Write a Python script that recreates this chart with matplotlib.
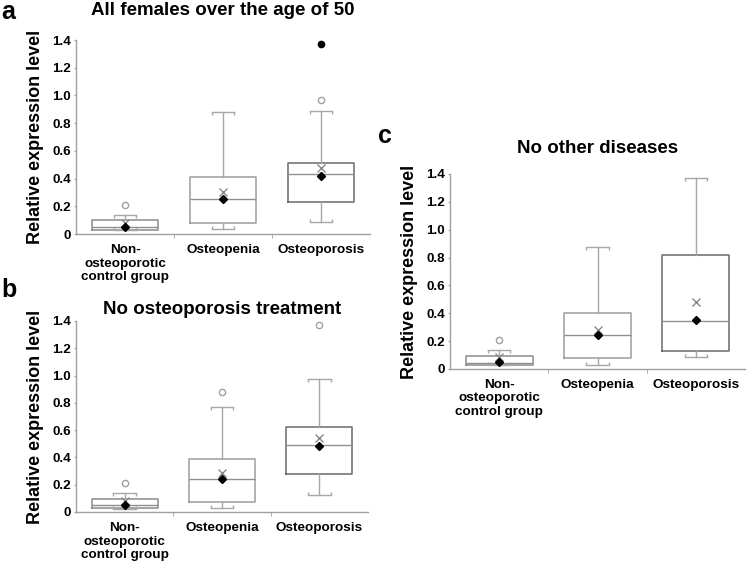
import matplotlib.pyplot as plt

plt.rcParams['font.family'] = ['Liberation Sans', 'DejaVu Sans']

groups = ['Non-\nosteoporotic\ncontrol group', 'Osteopenia', 'Osteoporosis']

# panel a: all females over 50
a_q1 = [0.03, 0.08, 0.23]
a_med = [0.05, 0.25, 0.43]
a_q3 = [0.10, 0.41, 0.51]
a_lo = [0.03, 0.035, 0.09]
a_hi = [0.135, 0.88, 0.885]
a_mean = [0.08, 0.30, 0.48]
a_diamond = [0.05, 0.25, 0.42]
a_open = [[0.21], [], [0.97]]
a_filled = [[], [], [1.37]]

# panel b: no osteoporosis treatment
b_q1 = [0.027, 0.075, 0.28]
b_med = [0.05, 0.24, 0.49]
b_q3 = [0.095, 0.39, 0.625]
b_lo = [0.025, 0.03, 0.125]
b_hi = [0.136, 0.77, 0.975]
b_mean = [0.08, 0.285, 0.545]
b_diamond = [0.05, 0.24, 0.485]
b_open = [[0.21], [0.88], [1.37]]
b_filled = [[], [], []]

# panel c: no other diseases
c_q1 = [0.025, 0.078, 0.127]
c_med = [0.046, 0.243, 0.348]
c_q3 = [0.095, 0.405, 0.818]
c_lo = [0.025, 0.028, 0.085]
c_hi = [0.135, 0.878, 1.37]
c_mean = [0.085, 0.28, 0.478]
c_diamond = [0.05, 0.243, 0.35]
c_open = [[0.21], [], []]
c_filled = [[], [], []]

box_colors = ['#8c8c8c', '#9c9c9c', '#6a6a6a']
whisk_col = '#a8a8a8'
capw = 0.23


def panel(ax, q1, med, q3, lo, hi, mean, diamond, opn, filled, title, tpad):
    pos = [1, 2, 3]
    stats = []
    for i in range(3):
        stats.append(dict(med=med[i], q1=q1[i], q3=q3[i], whislo=lo[i], whishi=hi[i],
                          mean=mean[i], fliers=[]))
    parts = ax.bxp(stats, positions=pos, widths=0.68, capwidths=capw, showmeans=True,
                   showfliers=False,
                   boxprops=dict(lw=1.1),
                   whiskerprops=dict(color=whisk_col, lw=1.0),
                   capprops=dict(color=whisk_col, lw=1.0),
                   medianprops=dict(color='#909090', lw=1.0),
                   meanprops=dict(marker='x', markeredgecolor='#8a8a8a', markersize=5.5, mew=1.0))
    for b, c in zip(parts['boxes'], box_colors):
        b.set_color(c)
    # little turned-in ends on the caps, excel style
    for i in range(3):
        xs = [pos[i] - capw / 2, pos[i] + capw / 2]
        ax.plot(xs, [lo[i], lo[i]], ls='none', marker=2, color=whisk_col, markersize=2.5, mew=1.0)
        ax.plot(xs, [hi[i], hi[i]], ls='none', marker=3, color=whisk_col, markersize=2.5, mew=1.0)
    ax.plot(pos, diamond, 'D', color='black', markersize=4.5, ls='none', zorder=5)
    for i in range(3):
        if opn[i]:
            ax.plot([pos[i]] * len(opn[i]), opn[i], 'o', mfc='white', mec='#a0a0a0',
                    markersize=4.5, mew=1.0, clip_on=False)
        if filled[i]:
            ax.plot([pos[i]] * len(filled[i]), filled[i], 'o', color='black',
                    markersize=4.5, clip_on=False)
    ax.set_xlim(0.5, 3.5)
    ax.set_ylim(0, 1.4)
    ax.set_yticks([0, 0.2, 0.4, 0.6, 0.8, 1.0, 1.2, 1.4])
    ax.set_yticklabels(['0', '0.2', '0.4', '0.6', '0.8', '1.0', '1.2', '1.4'])
    ax.set_xticks(pos)
    ax.set_xticklabels(groups)
    ax.set_xticks([1.5, 2.5], minor=True)
    ax.tick_params(axis='x', which='major', length=0, pad=7)
    ax.tick_params(axis='x', which='minor', length=3, color='#a0a0a0')
    ax.tick_params(axis='y', length=1.5, pad=2, color='#a0a0a0')
    for lab in ax.get_xticklabels() + ax.get_yticklabels():
        lab.set_fontweight('bold')
        lab.set_fontsize(9.7)
    for s in ['top', 'right']:
        ax.spines[s].set_visible(False)
    for s in ['left', 'bottom']:
        ax.spines[s].set_color('#a0a0a0')
        ax.spines[s].set_linewidth(1.0)
    ax.set_ylabel('Relative expression level', fontsize=13, fontweight='bold', labelpad=6)
    ax.set_title(title, fontsize=13.5, fontweight='bold', pad=tpad)


fig = plt.figure(figsize=(7.47, 5.68), dpi=100)
ax_a = fig.add_axes([0.1017, 0.588, 0.3936, 0.3415])
ax_b = fig.add_axes([0.1017, 0.0986, 0.391, 0.3363])
ax_c = fig.add_axes([0.6024, 0.3504, 0.395, 0.3433])

panel(ax_a, a_q1, a_med, a_q3, a_lo, a_hi, a_mean, a_diamond, a_open, a_filled,
      'All females over the age of 50', 18)
panel(ax_b, b_q1, b_med, b_q3, b_lo, b_hi, b_mean, b_diamond, b_open, b_filled,
      'No osteoporosis treatment', 5)
panel(ax_c, c_q1, c_med, c_q3, c_lo, c_hi, c_mean, c_diamond, c_open, c_filled,
      'No other diseases', 15)

fig.text(0.002, 0.966, 'a', fontsize=18, fontweight='bold', va='baseline')
fig.text(0.002, 0.477, 'b', fontsize=18, fontweight='bold', va='baseline')
fig.text(0.506, 0.748, 'c', fontsize=18, fontweight='bold', va='baseline')

fig.savefig('out.png', dpi=100)
